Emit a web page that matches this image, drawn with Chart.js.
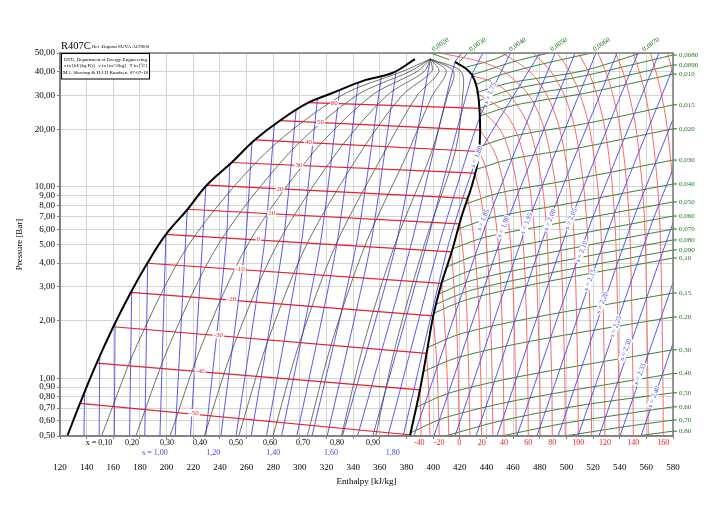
<!DOCTYPE html>
<html>
<head>
<meta charset="utf-8">
<script src="https://cdn.jsdelivr.net/npm/chart.js@4.4.0/dist/chart.umd.min.js"></script>
<style>
  html, body { margin: 0; padding: 0; background: #fff; }
  #wrap { width: 719px; height: 520px; position: relative; }
</style>
</head>
<body>
<div id="wrap"><canvas id="phChart"></canvas></div>
<script>
// axis ticks
const xTicks = [120,140,160,180,200,220,240,260,280,300,320,340,360,380,400,420,440,460,480,500,520,540,560,580];
const yTicks = [0.5,0.6,0.7,0.8,0.9,1,2,3,4,5,6,7,8,9,10,20,30,40,50];

// saturation lines [h kJ/kg, p bar]
const liquidLine = [[125.5,0.50],[135.0,0.74],[147.5,1.20],[160.0,1.86],[173.1,2.81],[185.5,3.99],[199.5,5.65],[215.8,7.64],[230.1,10.2],[248.8,13.4],[266.3,17.6],[285.1,22.2],[306.3,27.5],[323.9,30.8],[348.9,36.1],[368.9,39.2],[386.4,46.4]];
const vaporLine = [[382.6,0.50],[390.1,0.87],[395.2,1.36],[400.1,2.12],[406.4,3.15],[413.9,4.57],[421.7,7.13],[429.2,10.2],[433.7,13.8],[435.2,18.7],[434.8,25.2],[432.9,32.8],[429.2,38.4],[423.9,41.8],[416.4,44.9]];

// isotherms inside the dome (bubble -> dew)
const tpTemps = [-50,-40,-30,-20,-10,0,10,20,30,40,50,60];
const bubblePts = [[135.0,0.74],[147.5,1.20],[160.0,1.86],[173.1,2.81],[185.5,3.99],[199.5,5.65],[215.8,7.64],[230.1,10.2],[248.8,13.4],[266.3,17.6],[285.1,22.2],[306.3,27.5]];
const dewPts = [[383.9,0.506],[390.1,0.87],[395.1,1.35],[400.1,2.12],[406.4,3.13],[413.9,4.58],[420.0,6.4],[426.0,8.7],[431.4,11.8],[434.3,15.3],[435.1,19.8],[434.8,25.7]];
const tpLabelH = [220.6,225.1,238.9,248.8,255.1,268.9,278.9,285.1,299.3,306.4,315.5,325.8];
const tpLabelP = [0.66,1.09,1.69,2.58,3.72,5.3,7.26,9.78,12.95,17.05,21.7,27.2];

// isotherms in superheated vapour
const shTemps = [-40,-30,-20,-10,0,10,20,30,40,50,60,70,80,90,100,110,120,130,140,150,160,170,180];
const shLines = [
  [[390.1,0.87],[390.5,0.7],[391.0,0.5]],
  [[395.1,1.35],[396.2,1.0],[397.0,0.75],[397.6,0.5]],
  [[400.1,2.12],[401.8,1.5],[403.3,1.0],[404.6,0.5]],
  [[406.4,3.13],[408.5,2.0],[410.6,1.0],[411.8,0.5]],
  [[413.9,4.58],[415.7,3.0],[417.5,2.0],[418.9,1.0],[419.6,0.5]],
  [[420.0,6.4],[422.5,4.5],[425.0,2.5],[426.8,1.0],[427.6,0.5]],
  [[426.0,8.7],[429.7,6.0],[433.4,3.0],[435.8,1.0],[436.4,0.5]],
  [[431.4,11.8],[435.5,9.0],[439.0,6.0],[442.2,3.0],[444.3,1.0],[444.8,0.5]],
  [[434.3,15.3],[438.8,13.0],[443.0,10.0],[447.8,6.0],[450.8,3.0],[452.7,1.0],[453.2,0.5]],
  [[435.1,19.8],[446.5,15.0],[453.2,10.0],[457.2,6.0],[460.0,3.0],[461.8,1.0],[462.3,0.5]],
  [[434.8,25.7],[450.0,20.0],[457.5,15.0],[463.0,10.0],[466.8,6.0],[469.3,3.0],[471.0,1.0],[471.4,0.5]],
  [[432.2,31.0],[452.5,25.0],[461.5,20.0],[467.5,15.0],[472.5,10.0],[476.6,5.0],[480.0,1.0],[480.4,0.5]],
  [[429.5,38.0],[446.0,35.0],[458.0,30.0],[472.5,20.0],[482.0,10.0],[485.8,5.0],[489.0,1.0],[489.4,0.5]],
  [[405.0,50],[436.0,45],[453.0,40],[472.0,30],[483.5,20],[492.0,10],[495.8,5],[498.8,1],[499.1,0.5]],
  [[452.0,50],[472.5,40],[485.5,30],[495.0,20],[502.5,10],[506.0,5],[508.6,1],[508.9,0.5]],
  [[475.0,50],[488.5,40],[498.5,30],[506.5,20],[513.0,10],[516.2,5],[518.6,1],[518.9,0.5]],
  [[493.0,50],[502.5,40],[510.5,30],[517.5,20],[523.5,10],[526.4,5],[528.6,1],[528.9,0.5]],
  [[509.0,50],[516.5,40],[523.0,30],[529.0,20],[534.5,10],[537.2,5],[539.2,1],[539.5,0.5]],
  [[523.5,50],[529.5,40],[535.0,30],[540.5,20],[545.5,10],[548.0,5],[549.9,1],[550.2,0.5]],
  [[537.0,50],[542.3,40],[547.3,30],[552.3,20],[557.0,10],[559.3,5],[561.1,1],[561.4,0.5]],
  [[550.0,50],[554.7,40],[559.4,30],[564.0,20],[568.5,10],[570.7,5],[572.4,1],[572.7,0.5]],
  [[563.0,50],[567.2,40],[571.5,30],[575.8,20],[580.0,10],[582.1,5]],
  [[575.8,50],[579.6,40],[583.6,30]]
];
const tempBottomVals = [-40,-20,0,20,40,60,80,100,120,140,160];
const tempBottomH = [389.6,404.6,419.6,436.4,453.2,471.4,489.4,508.9,528.9,550.2,572.7];

// isentropes, kJ/(kg K)
const sTwoPhase = [0.75,0.80,0.85,0.90,0.95,1.00,1.05,1.10,1.15,1.20,1.25,1.30,1.35,1.40,1.45,1.50,1.55,1.60,1.65,1.70,1.75,1.80];
const sTwoPhaseLines = [
  [[138.0,0.5],[138.4,0.83]],
  [[149.4,0.5],[149.8,1.27]],
  [[160.8,0.5],[161.3,1.94]],
  [[172.2,0.5],[173.8,2.87]],
  [[183.6,0.5],[185.8,4.02]],
  [[195.0,0.5],[199.5,5.65]],
  [[206.4,0.5],[215.5,7.6]],
  [[217.9,0.5],[229.5,10.1]],
  [[229.3,0.5],[244.6,5],[247.5,13.2]],
  [[240.7,0.5],[259.0,5],[264.0,17.0]],
  [[252.1,0.5],[273.3,5],[280.8,21.1]],
  [[263.5,0.5],[287.3,5],[297.2,25.2]],
  [[274.9,0.5],[301.0,5],[313.2,28.8]],
  [[286.3,0.5],[315.2,5],[329.9,32.0]],
  [[297.7,0.5],[327.7,5],[343.8,35.0]],
  [[309.1,0.5],[342.4,5],[361.3,38.0]],
  [[320.5,0.5],[353.1,5],[372.3,40.5]],
  [[331.9,0.5],[372.1,5],[398.0,46.6]],
  [[343.3,0.5],[383.5,5],[416.4,44.9],[421.7,50]],
  [[354.7,0.5],[395.0,5],[429.2,38.4],[437.4,50]],
  [[366.1,0.5],[404.5,5],[434.8,22.9],[458.0,50]],
  [[377.5,0.5],[411.5,5],[433.9,14.5],[480.0,50]]
];
const sSuper = [1.85,1.90,1.95,2.00,2.05,2.10,2.15,2.20,2.25,2.30,2.35,2.40];
const sSuperLines = [
  [[385.6,0.5],[440.4,6.55],[491.5,50]],
  [[400.6,0.5],[455.4,6.55],[506.5,50]],
  [[416.4,0.5],[471.2,6.55],[522.2,50]],
  [[432.2,0.5],[486.9,6.55],[538.0,50]],
  [[447.9,0.5],[502.7,6.55],[553.7,50]],
  [[462.9,0.5],[518.5,6.55],[569.5,50]],
  [[477.9,0.5],[533.6,6.55],[584.5,50]],
  [[493.7,0.5],[549.4,6.55],[600.3,50]],
  [[508.7,0.5],[564.4,6.55],[615.3,50]],
  [[524.5,0.5],[580.3,6.55],[631.0,50]],
  [[540.2,0.5],[595.8,6.55]],
  [[556.0,0.5],[611.5,6.55]]
];
const sLabelText = ['1,75','1,80','1,85','1,90','1,95','2,00','2,05','2,10','2,15','2,20','2,25','2,30','2,35','2,40'];
const sLabelPos = [[442.7,30.8],[432.7,14.37],[437.6,6.71],[452.7,6.19],[470.2,6.45],[487.7,6.71],[503.5,6.80],[511.5,4.58],[517.7,3.26],[526.9,2.48],[537.0,1.86],[544.5,1.41],[555.2,1.05],[565.7,0.80]];
const sBottomText = ['s = 1,00','1,20','1,40','1,60','1,80'];
const sBottomH = [191.3,235.0,280.1,323.4,369.7];

// vapour quality lines
const qualities = [0.1,0.2,0.3,0.4,0.5,0.6,0.7,0.8,0.9];
const qualityLines = [
  [[151.2,0.5],[177.9,1.5],[216.7,5],[274.1,15],[331.2,30],[376.7,40],[398,46.5]],
  [[176.9,0.5],[202.2,1.5],[238.8,5],[291.9,15],[342.5,30],[382.3,40],[398,46.5]],
  [[202.6,0.5],[226.5,1.5],[260.9,5],[309.6,15],[353.9,30],[387.8,40],[398,46.5]],
  [[228.3,0.5],[250.7,1.5],[283.0,5],[327.4,15],[365.3,30],[393.3,40],[398,46.5]],
  [[254.1,0.5],[275.0,1.5],[305.1,5],[345.2,15],[376.7,30],[398.9,40],[398,46.5]],
  [[279.8,0.5],[299.3,1.5],[327.1,5],[363.0,15],[388.0,30],[404.4,40],[398,46.5]],
  [[305.5,0.5],[323.5,1.5],[349.2,5],[380.8,15],[399.4,30],[409.9,40],[398,46.5]],
  [[331.2,0.5],[347.8,1.5],[371.3,5],[398.5,15],[410.8,30],[415.4,40],[398,46.5]],
  [[356.9,0.5],[372.0,1.5],[393.4,5],[416.3,15],[422.2,30],[421.0,40],[398,46.5]]
];
const qualityLabelText = ['x = 0,10','0,20','0,30','0,40','0,50','0,60','0,70','0,80','0,90'];
const qualityLabelH = [149.3,174.0,200.3,225.0,252.0,277.6,302.3,327.9,354.9];

// isochores, m3/kg
const isoTopText = ['0,0020','0,0030','0,0040','0,0050','0,0060','0,0070'];
const isoTopLines = [
  [[412.0,46.2],[398.0,50]],
  [[420.0,45.2],[426.0,50]],
  [[424.8,42.2],[437.0,44.4],[449.0,47.2],[456.0,50]],
  [[429.3,38.5],[445.0,41.6],[463.0,45.6],[487.0,50]],
  [[432.0,34.2],[450.0,38.3],[482.0,43.8],[519.0,50]],
  [[432.2,31.0],[457.2,34.9],[512.2,40.3],[556.0,50]]
];
const isoRightText = ['0,0080','0,0090','0,010','0,015','0,020','0,030','0,040','0,050','0,060','0,070','0,080','0,090','0,10','0,15','0,20','0,30','0,40','0,50','0,60','0,70','0,80'];
const isoRightLines = [
  [[434.0,28.1],[459.0,32.2],[514.0,38.1],[580,48.8]],
  [[435.0,25.7],[460.0,29.3],[515.0,34.2],[580,43.3]],
  [[434.9,23.4],[459.9,26.6],[514.9,30.9],[580,38.8]],
  [[434.5,16.2],[459.5,18.4],[514.5,21.4],[580,26.8]],
  [[431.9,12.3],[456.9,13.9],[511.9,16.1],[580,20.1]],
  [[424.3,8.13],[449.3,9.28],[504.3,10.9],[580,13.8]],
  [[418.9,6.03],[443.9,6.90],[498.9,8.12],[580,10.35]],
  [[414.6,4.75],[439.6,5.47],[494.6,6.47],[580,8.34]],
  [[410.4,3.83],[435.4,4.46],[490.4,5.35],[580,7.04]],
  [[406.6,3.18],[431.6,3.73],[486.6,4.52],[580,6.02]],
  [[404.3,2.76],[429.3,3.25],[484.3,3.94],[580,5.28]],
  [[402.4,2.44],[427.4,2.87],[482.4,3.49],[580,4.68]],
  [[400.6,2.19],[425.6,2.58],[480.6,3.15],[580,4.25]],
  [[395.9,1.45],[420.9,1.71],[475.9,2.08],[580,2.79]],
  [[392.6,1.085],[417.6,1.28],[472.6,1.56],[580,2.09]],
  [[387.3,0.706],[412.3,0.839],[467.3,1.03],[580,1.41]],
  [[383.2,0.52],[408.2,0.621],[463.2,0.769],[580,1.06]],
  [[409.1,0.5],[450.0,0.598],[510.0,0.721],[580,0.84]],
  [[451.4,0.5],[500.0,0.585],[580,0.71]],
  [[498.7,0.5],[540.0,0.554],[580,0.606]],
  [[553.0,0.5],[580,0.53]]
];

const SERIF = "'Liberation Serif', 'Times New Roman', serif";
const RED = 'rgb(232,30,40)';
const RED_LIGHT = 'rgb(245,90,90)';
const BLUE = 'rgb(70,70,235)';
const GREEN = 'rgb(30,120,30)';

const datasets = [];
function addLine(line, color, width, order, tension) {
  datasets.push({
    data: line.map(([h, p]) => ({ x: h, y: p })),
    showLine: true, borderColor: color, borderWidth: width,
    pointRadius: 0, fill: false, order: order, tension: tension || 0
  });
}
isoTopLines.forEach(l => addLine(l, GREEN, 0.9, 6, 0.3));
isoRightLines.forEach(l => addLine(l, GREEN, 0.9, 6, 0.3));
shLines.forEach(l => addLine(l, RED_LIGHT, 0.9, 5, 0.3));
sTwoPhaseLines.forEach(l => addLine(l, BLUE, 0.9, 4, 0.2));
sSuperLines.forEach(l => addLine(l, BLUE, 0.9, 4, 0.2));
qualityLines.forEach(l => addLine(l, '#333', 0.7, 3, 0.3));
bubblePts.forEach((b, i) => addLine([b, dewPts[i]], RED, 1.2, 2, 0));
addLine(liquidLine, '#000', 2, 1, 0.4);
addLine(vaporLine, '#000', 2, 1, 0.4);

function boxText(ctx, txt, px, py, color, size, angle, box) {
  ctx.save();
  ctx.translate(px, py);
  ctx.rotate(angle || 0);
  ctx.font = size + 'px ' + SERIF;
  const w = ctx.measureText(txt).width;
  if (box) {
    ctx.fillStyle = '#fff';
    ctx.fillRect(-w / 2 - 1, -size / 2, w + 2, size);
  }
  ctx.fillStyle = color;
  ctx.textAlign = 'center';
  ctx.textBaseline = 'middle';
  ctx.fillText(txt, 0, 0);
  ctx.restore();
}

const labelPlugin = {
  id: 'phLabels',
  afterDatasetsDraw(chart) {
    const { ctx, chartArea: a, scales: { x, y } } = chart;
    ctx.save();
    // frame
    ctx.strokeStyle = '#808080';
    ctx.lineWidth = 1.6;
    ctx.strokeRect(a.left, a.top, a.right - a.left, a.bottom - a.top);

    // two-phase isotherm labels
    tpTemps.forEach((t, i) => boxText(ctx, String(t), x.getPixelForValue(tpLabelH[i]), y.getPixelForValue(tpLabelP[i]), RED, 7, 0, true));

    // isentrope labels in superheat
    sLabelText.forEach((t, i) => boxText(ctx, 's = ' + t, x.getPixelForValue(sLabelPos[i][0]), y.getPixelForValue(sLabelPos[i][1]), BLUE, 7, -1.18, true));

    // bottom label rows
    qualityLabelText.forEach((t, i) => boxText(ctx, t, x.getPixelForValue(qualityLabelH[i]), a.bottom + 7, '#000', 8, 0, false));
    tempBottomVals.forEach((t, i) => boxText(ctx, String(t), x.getPixelForValue(tempBottomH[i]), a.bottom + 7, RED, 8, 0, false));
    sBottomText.forEach((t, i) => boxText(ctx, t, x.getPixelForValue(sBottomH[i]), a.bottom + 17, BLUE, 8, 0, false));

    // isochore labels right
    ctx.font = '7px ' + SERIF;
    ctx.textAlign = 'left';
    ctx.textBaseline = 'middle';
    isoRightLines.forEach((l, i) => {
      const last = l[l.length - 1];
      const py = y.getPixelForValue(last[1]);
      ctx.strokeStyle = GREEN;
      ctx.lineWidth = 1;
      ctx.beginPath(); ctx.moveTo(a.right, py); ctx.lineTo(a.right + 4, py); ctx.stroke();
      ctx.fillStyle = GREEN;
      ctx.fillText(isoRightText[i], a.right + 6, py);
    });
    // isochore labels top
    isoTopLines.forEach((l, i) => {
      const last = l[l.length - 1];
      ctx.save();
      ctx.translate(x.getPixelForValue(last[0]) + 2, a.top - 3);
      ctx.rotate(-0.6);
      ctx.fillStyle = GREEN;
      ctx.textAlign = 'left';
      ctx.fillText(isoTopText[i], 0, 0);
      ctx.restore();
    });

    // title
    ctx.fillStyle = '#000';
    ctx.textAlign = 'left';
    ctx.textBaseline = 'alphabetic';
    ctx.font = '10.5px ' + SERIF;
    ctx.fillText('R407C', a.left + 1, a.top - 4);
    ctx.font = '5px ' + SERIF;
    ctx.fillText('Ref :Dupont SUVA AC9000', a.left + 32, a.top - 5);

    // info box
    ctx.fillStyle = '#fff';
    ctx.fillRect(a.left + 1, a.top, 89, 26);
    ctx.strokeStyle = '#000';
    ctx.lineWidth = 1;
    ctx.strokeRect(a.left + 1.5, a.top + 0.5, 88, 25.5);
    ctx.fillStyle = '#000';
    ctx.textAlign = 'center';
    ctx.textBaseline = 'middle';
    ctx.font = '5px ' + SERIF;
    ctx.fillText('DTU, Department of Energy Engineering', a.left + 45.5, a.top + 6.5);
    ctx.fillText('s in [kJ/(kg K)].  v in [m^3/kg].  T in [\u00baC]', a.left + 45.5, a.top + 13);
    ctx.fillText('M.J. Skovrup & H.J.H Knudsen. 07-07-18', a.left + 45.5, a.top + 19.5);
    ctx.restore();
  }
};

new Chart(document.getElementById('phChart'), {
  type: 'scatter',
  data: { datasets: datasets },
  options: {
    responsive: true,
    maintainAspectRatio: false,
    animation: false,
    layout: { padding: { top: 53, right: 46, left: 0, bottom: 0 } },
    plugins: { legend: { display: false }, tooltip: { enabled: false } },
    scales: {
      x: {
        type: 'linear', min: 120, max: 580,
        afterBuildTicks: s => { s.ticks = xTicks.map(v => ({ value: v })); },
        afterFit: s => { s.height = 84; },
        ticks: { autoSkip: false, maxRotation: 0, padding: 23, color: '#000', font: { family: SERIF, size: 9 } },
        grid: { color: '#d4d4d4', lineWidth: 1, tickLength: 3, tickColor: '#808080' },
        border: { color: '#808080', width: 1.6 },
        title: { display: true, text: 'Enthalpy [kJ/kg]', color: '#000', font: { family: SERIF, size: 9 }, padding: { top: 0, bottom: 33 } }
      },
      y: {
        type: 'logarithmic', min: 0.5, max: 50,
        afterBuildTicks: s => { s.ticks = yTicks.map(v => ({ value: v })); },
        afterFit: s => { s.width = 60; },
        ticks: { autoSkip: false, padding: 2, color: '#000', font: { family: SERIF, size: 9 },
          callback: v => Number(v).toFixed(2).replace('.', ',') },
        grid: { color: '#d4d4d4', lineWidth: 1, tickLength: 3, tickColor: '#808080' },
        border: { color: '#808080', width: 1.6 },
        title: { display: true, text: 'Pressure [Bar]', color: '#000', font: { family: SERIF, size: 9 }, padding: { top: 14, bottom: 0 } }
      }
    }
  },
  plugins: [labelPlugin]
});
</script>
</body>
</html>
